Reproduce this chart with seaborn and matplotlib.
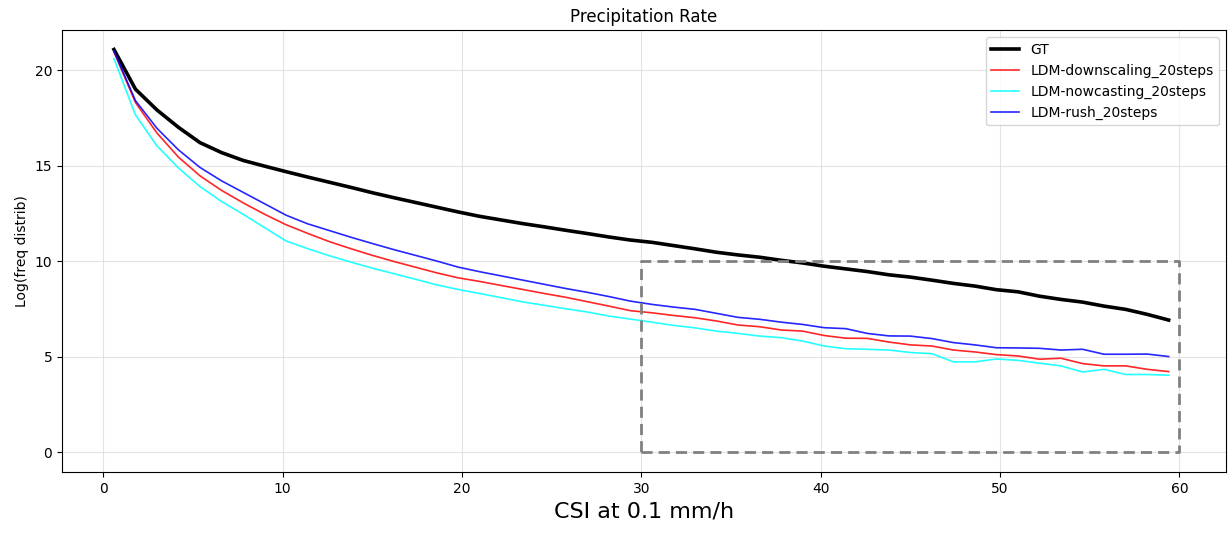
import numpy as np
import pandas as pd
import matplotlib
matplotlib.use("Agg")
import matplotlib.pyplot as plt
import seaborn as sns

# Rainfall thresholds (x axis) and log frequency distributions per model
thresholds = [0.6 + 1.2 * k for k in range(50)]

gt = [21.08, 19.0, 17.91, 17.0, 16.2, 15.68, 15.27, 14.97, 14.68, 14.40,
      14.13, 13.86, 13.58, 13.32, 13.07, 12.82, 12.57, 12.34, 12.15, 11.96,
      11.79, 11.61, 11.44, 11.26, 11.10, 10.98, 10.81, 10.64, 10.46, 10.32,
      10.20, 10.04, 9.90, 9.73, 9.59, 9.45, 9.28, 9.16, 9.00, 8.83,
      8.69, 8.50, 8.39, 8.16, 7.99, 7.85, 7.64, 7.47, 7.21, 6.91]

ldm_downscaling = [20.95, 18.3, 16.7, 15.44, 14.46, 13.7, 13.05, 12.45, 11.9, 11.45,
                   11.02, 10.65, 10.3, 9.98, 9.68, 9.38, 9.12, 8.93, 8.72, 8.51,
                   8.30, 8.10, 7.87, 7.64, 7.40, 7.29, 7.15, 7.03, 6.86, 6.65,
                   6.56, 6.39, 6.33, 6.10, 5.96, 5.95, 5.76, 5.61, 5.55, 5.34,
                   5.24, 5.10, 5.03, 4.86, 4.91, 4.63, 4.51, 4.51, 4.33, 4.21]

ldm_nowcasting = [20.6, 17.65, 16.03, 14.87, 13.9, 13.12, 12.45, 11.75, 11.05, 10.65,
                  10.28, 9.95, 9.63, 9.34, 9.05, 8.75, 8.51, 8.30, 8.08, 7.86,
                  7.68, 7.50, 7.33, 7.12, 6.96, 6.80, 6.63, 6.50, 6.33, 6.21,
                  6.07, 5.99, 5.81, 5.55, 5.41, 5.38, 5.34, 5.21, 5.15, 4.72,
                  4.72, 4.87, 4.80, 4.65, 4.51, 4.19, 4.33, 4.06, 4.06, 4.02]

ldm_rush = [21.0, 18.4, 16.95, 15.82, 14.9, 14.2, 13.6, 13.0, 12.4, 11.95,
            11.6, 11.25, 10.92, 10.6, 10.3, 10.0, 9.68, 9.44, 9.22, 9.00,
            8.78, 8.56, 8.36, 8.14, 7.90, 7.73, 7.59, 7.47, 7.26, 7.05,
            6.95, 6.80, 6.68, 6.51, 6.46, 6.21, 6.08, 6.07, 5.94, 5.73,
            5.61, 5.46, 5.45, 5.43, 5.34, 5.38, 5.12, 5.12, 5.13, 5.00]

series_names = ["GT", "LDM-downscaling_20steps", "LDM-nowcasting_20steps", "LDM-rush_20steps"]
series_values = [gt, ldm_downscaling, ldm_nowcasting, ldm_rush]
series_colors = ["black", "red", "cyan", "blue"]
series_widths = [2.6, 1.2, 1.2, 1.2]
series_alpha = [1.0, 0.85, 0.85, 0.85]

# Highlighted tail region
box_x = [30, 60]
box_y = [0, 10]

fig = plt.figure(figsize=(12.29, 5.34), dpi=100)
ax = fig.add_axes([0.0504, 0.116, 0.9472, 0.8278])

for name, vals, col, lw, al in zip(series_names, series_values, series_colors,
                                   series_widths, series_alpha):
    df = pd.DataFrame({"x": thresholds, "y": vals})
    sns.lineplot(data=df, x="x", y="y", ax=ax, color=col, linewidth=lw,
                 alpha=al, label=name)

# Dashed outline around the tail region
outline_x = [box_x[0], box_x[1], box_x[1], box_x[0], box_x[0]]
outline_y = [box_y[0], box_y[0], box_y[1], box_y[1], box_y[0]]
ax.plot(outline_x, outline_y, color="gray", linestyle="--", linewidth=2,
        dashes=(4, 2.2))

ax.set_xlim(-2.3, 62.6)
ax.set_ylim(-1.05, 22.1)
ax.grid(True, color="#dddddd", linewidth=0.8, alpha=0.8)
ax.set_xticks([0, 10, 20, 30, 40, 50, 60])
ax.set_yticks([0, 5, 10, 15, 20])
ax.set_title("Precipitation Rate", fontsize=12)
ax.set_xlabel("CSI at 0.1 mm/h", fontsize=16)
ax.set_ylabel("Log(freq distrib)", fontsize=10)
ax.legend(loc="upper right", fontsize=10)

fig.savefig("out.png", dpi=100)
